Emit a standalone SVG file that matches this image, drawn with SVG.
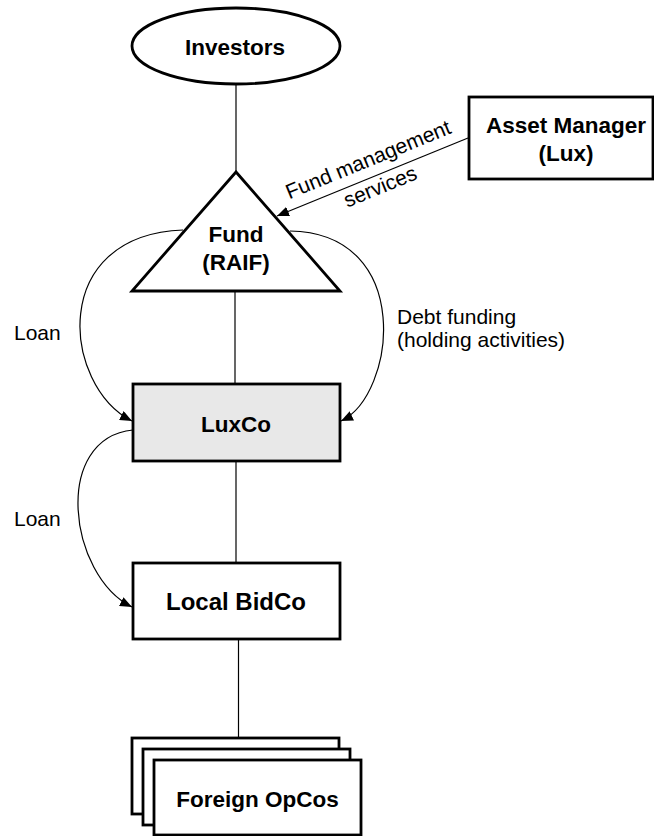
<svg xmlns="http://www.w3.org/2000/svg" width="654" height="836" viewBox="0 0 654 836">
<defs>
<style>
.node{fill:#fff;stroke:#000;stroke-width:2.8}
.grey{fill:#e8e8e8}
.b{font-family:"Liberation Sans",Arial,sans-serif;font-weight:bold;font-size:22.5px;fill:#000;text-anchor:middle}
.l{font-family:"Liberation Sans",Arial,sans-serif;font-size:21px;fill:#000}
.ln{fill:none;stroke:#000;stroke-width:1.2}
</style>
<marker id="ah" viewBox="0 0 12 10" refX="12" refY="5" markerWidth="12" markerHeight="10" markerUnits="userSpaceOnUse" orient="auto">
<path d="M0,0 L12,5 L0,10 Z" fill="#000"/>
</marker>
</defs>
<g id="connectors">
<line class="ln" x1="236" y1="84" x2="236" y2="172"/>
<line class="ln" x1="235" y1="291" x2="235" y2="384"/>
<line class="ln" x1="236" y1="461" x2="236" y2="563"/>
<line class="ln" x1="238.5" y1="639" x2="238.5" y2="738"/>
<line class="ln" x1="468" y1="138" x2="277" y2="216" marker-end="url(#ah)"/>
<path class="ln" d="M183,230 C48,235 62,385 132,421" marker-end="url(#ah)"/>
<path class="ln" d="M290,231 C415,233 396,395 341,421" marker-end="url(#ah)"/>
<path class="ln" d="M133,430 C52,438 68,575 132,607" marker-end="url(#ah)"/>
<text class="l" x="14" y="340">Loan</text>
<text class="l" x="14" y="526">Loan</text>
<text class="l" x="397" y="324">Debt funding</text>
<text class="l" x="397" y="347">(holding activities)</text>
<g transform="translate(372,177) rotate(-22.2)">
<text class="l" x="3" y="-10.5" text-anchor="middle">Fund management</text>
<text class="l" x="4" y="19" text-anchor="middle">services</text>
</g>
</g>
<g id="investors">
<ellipse class="node" cx="236" cy="46" rx="104" ry="38"/>
<text class="b" x="235" y="55">Investors</text>
</g>
<g id="asset-manager">
<rect class="node" x="469" y="97" width="184" height="82"/>
<text class="b" x="566" y="133">Asset Manager</text>
<text class="b" x="566" y="161">(Lux)</text>
</g>
<g id="fund">
<polygon class="node" points="236,172 132,291 340,291"/>
<text class="b" x="236" y="242">Fund</text>
<text class="b" x="236" y="270">(RAIF)</text>
</g>
<g id="luxco">
<rect class="node grey" x="133" y="384" width="207" height="77"/>
<text class="b" x="236" y="432">LuxCo</text>
</g>
<g id="local-bidco">
<rect class="node" x="133" y="563" width="207" height="76"/>
<text class="b" x="236" y="610" style="font-size:24px">Local BidCo</text>
</g>
<g id="foreign-opcos">
<rect class="node" x="132" y="738" width="207" height="76"/>
<rect class="node" x="143" y="749" width="207" height="76"/>
<rect class="node" x="154" y="760" width="207" height="75"/>
<text class="b" x="257.5" y="807">Foreign OpCos</text>
</g>
</svg>
